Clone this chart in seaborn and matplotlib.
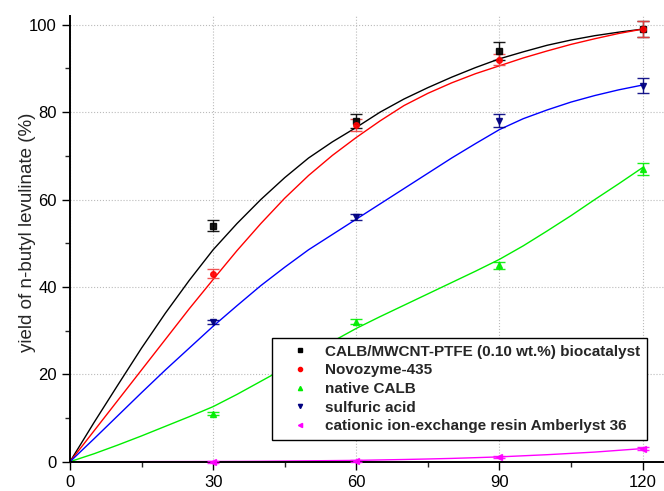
import numpy as np
import pandas as pd
import matplotlib
matplotlib.use("Agg")
import matplotlib.pyplot as plt
import seaborn as sns
from matplotlib.lines import Line2D

# ---- data ----
series_names = ["CALB/MWCNT-PTFE (0.10 wt.%) biocatalyst", "Novozyme-435", "native CALB",
                "sulfuric acid", "cationic ion-exchange resin Amberlyst 36"]
t_points = [30, 60, 90, 120]
y_calb_mwcnt = [54, 78, 94, 99]
y_novozyme = [43, 77, 92, 99]
y_native = [11, 32, 45, 67]
y_sulfuric = [32, 56, 78, 86]
y_amberlyst = [0, 0.2, 1, 3]
e_calb_mwcnt = [1.2, 1.6, 2.0, 1.9]
e_novozyme = [1.0, 1.4, 1.3, 1.9]
e_native = [0.4, 0.6, 0.8, 1.3]
e_sulfuric = [0.5, 0.8, 1.5, 1.7]
e_amberlyst = [0.2, 0.2, 0.2, 0.3]

# fitted curves (every 5 min)
t_curve = [0, 5, 10, 15, 20, 25, 30, 35, 40, 45, 50, 55, 60,
           65, 70, 75, 80, 85, 90, 95, 100, 105, 110, 115, 120]
c_calb_mwcnt = [0, 8.9, 17.5, 26.0, 34.0, 41.5, 48.5, 54.5, 60.0, 65.0, 69.5, 73.2, 76.5,
                80.0, 83.0, 85.6, 88.0, 90.2, 92.2, 93.8, 95.3, 96.5, 97.5, 98.3, 99.0]
c_novozyme = [0, 7.0, 14.0, 21.0, 28.0, 35.0, 41.7, 48.3, 54.5, 60.3, 65.5, 70.1, 74.2,
              78.0, 81.5, 84.3, 86.7, 88.8, 90.6, 92.4, 94.0, 95.5, 96.8, 98.0, 99.0]
c_native = [0, 1.8, 3.8, 5.9, 8.1, 10.3, 12.6, 15.4, 18.4, 21.4, 24.4, 27.5, 30.5,
            33.2, 35.8, 38.4, 41.0, 43.6, 46.3, 49.4, 52.8, 56.3, 60.0, 63.6, 67.3]
c_sulfuric = [0, 5.2, 10.5, 15.8, 21.0, 26.0, 31.0, 35.7, 40.3, 44.5, 48.5, 52.0, 55.5,
              59.0, 62.5, 66.0, 69.5, 72.8, 76.0, 78.5, 80.5, 82.3, 83.8, 85.1, 86.2]
c_amberlyst = [0, 0.0, 0.0, 0.01, 0.02, 0.03, 0.05, 0.07, 0.1, 0.15, 0.2, 0.25, 0.3,
               0.4, 0.5, 0.62, 0.75, 0.92, 1.1, 1.35, 1.6, 1.9, 2.2, 2.6, 3.0]

x_ticks = [0, 30, 60, 90, 120]
y_ticks = [0, 20, 40, 60, 80, 100]

line_colors = ["#000000", "#ff0000", "#00ee00", "#0000ff", "#ff00ff"]
marker_colors = ["#000000", "#ff0000", "#00ee00", "#000080", "#ff00ff"]
err_colors = ["#000000", "#f04040", "#00ee00", "#000080", "#ff00ff"]
markers = ["s", "o", "^", "v", "<"]

sns.set_style("ticks")
plt.rcParams["font.family"] = ["Liberation Sans", "DejaVu Sans"]

fig = plt.figure(figsize=(6.64, 4.91), dpi=100)
ax = fig.add_axes([0.1054, 0.0597, 0.8946, 0.9077])

curves = [c_calb_mwcnt, c_novozyme, c_native, c_sulfuric, c_amberlyst]
df_c = pd.concat([pd.DataFrame({"t": t_curve, "y": c, "series": n})
                  for c, n in zip(curves, series_names)], ignore_index=True)
sns.lineplot(data=df_c, x="t", y="y", hue="series", hue_order=series_names,
             palette=dict(zip(series_names, line_colors)), legend=False,
             linewidth=1.0, ax=ax, zorder=2, clip_on=False)

ys = [y_calb_mwcnt, y_novozyme, y_native, y_sulfuric, y_amberlyst]
es = [e_calb_mwcnt, e_novozyme, e_native, e_sulfuric, e_amberlyst]
for y, e, mc, ec, mk in zip(ys, es, marker_colors, err_colors, markers):
    ax.errorbar(t_points, y, yerr=e, fmt=mk, color=mc, ecolor=ec, ms=4,
                capsize=4.5, elinewidth=1.0, capthick=1.0, ls="none",
                zorder=3, clip_on=False, alpha=0.9)

ax.set_xlim(0, 124.5)
ax.set_ylim(0, 102)
ax.set_xticks(x_ticks)
ax.set_yticks(y_ticks)
ax.set_xticks([15, 45, 75, 105], minor=True)
ax.set_yticks([10, 30, 50, 70, 90], minor=True)
ax.tick_params(axis="both", which="major", direction="out", length=6, width=1.0,
               labelsize=12, colors="black")
ax.tick_params(axis="both", which="minor", direction="out", length=3.5, width=1.0)
ax.grid(True, which="major", ls=":", color="#bbbbbb", lw=0.8)
for s in ["top", "right"]:
    ax.spines[s].set_visible(False)
for s in ["left", "bottom"]:
    ax.spines[s].set_linewidth(1.4)
    ax.spines[s].set_color("black")
ax.set_xlabel("")
ax.set_ylabel("yield of n-butyl levulinate (%)", fontsize=13.5)
ax.yaxis.set_label_coords(-0.058, 0.515)

handles = [Line2D([], [], marker=mk, color=mc, ls="none", ms=3)
           for mk, mc in zip(markers, marker_colors)]
leg = ax.legend(handles, series_names, loc="lower left", bbox_to_anchor=(0.34, 0.0487),
                borderaxespad=0, frameon=True, fancybox=False, framealpha=1,
                edgecolor="black", handlelength=2.8, handletextpad=0.2,
                labelspacing=0.3, borderpad=0.45,
                prop={"size": 11, "weight": "bold"})
leg.get_frame().set_linewidth(1.0)
leg.set_zorder(5)

fig.savefig("out.png", dpi=100)
